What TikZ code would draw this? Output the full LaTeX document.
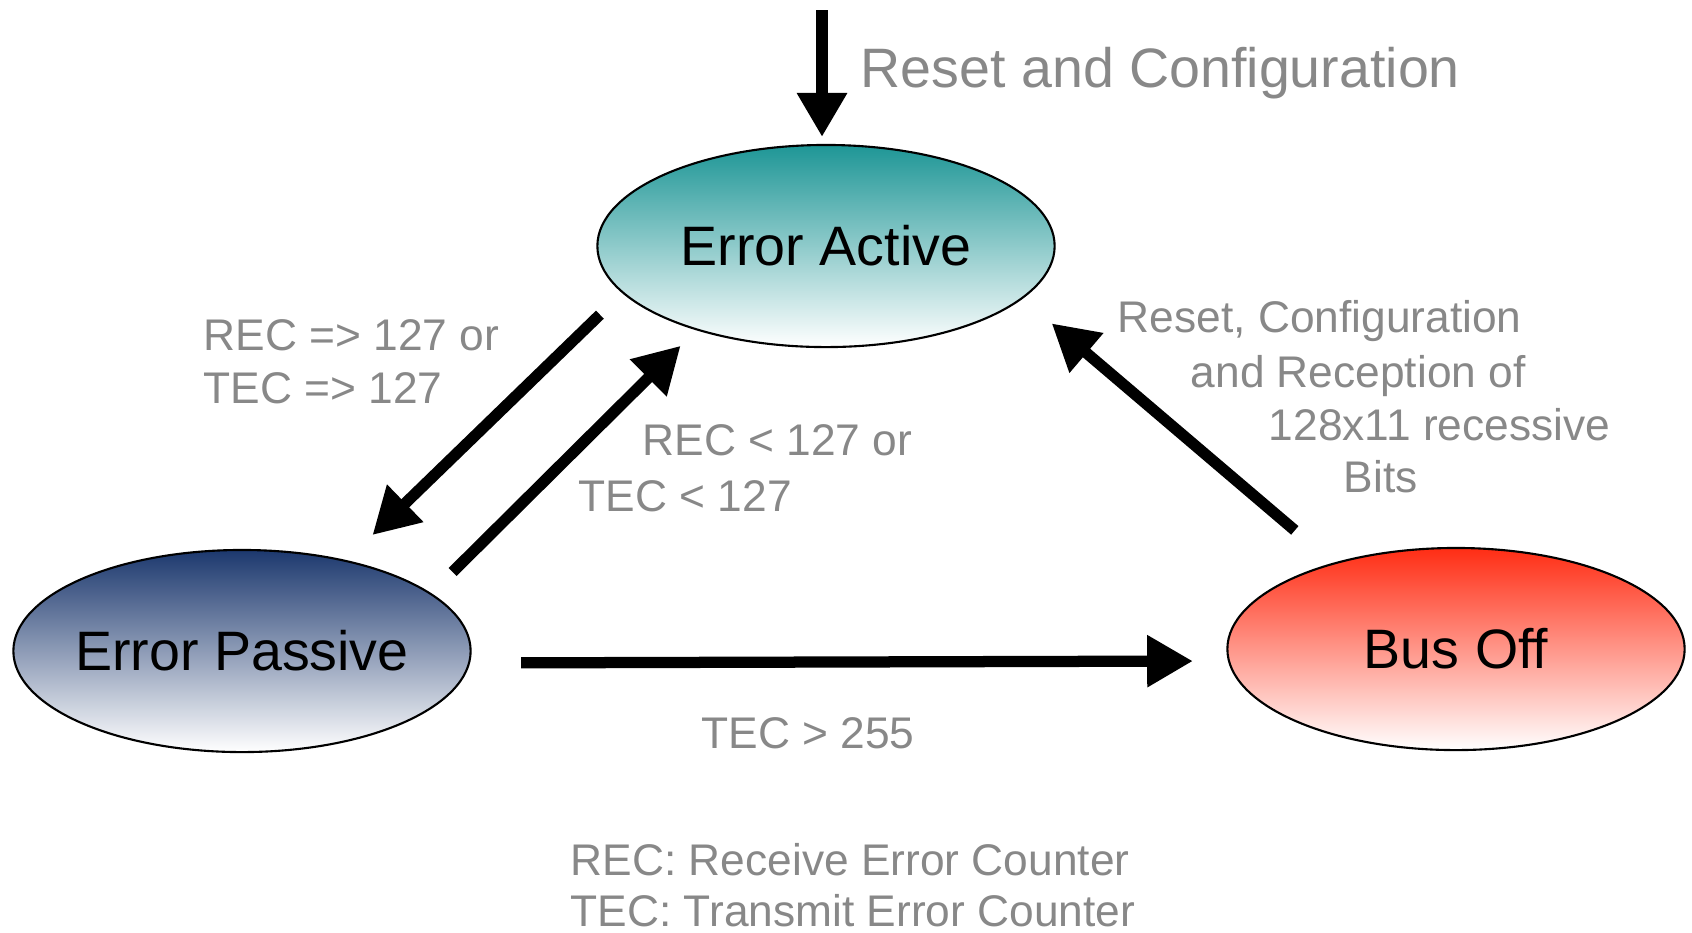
\documentclass[tikz,border=0pt]{standalone}
\usepackage{fontspec}
\setmainfont{Liberation Sans}
\usetikzlibrary{arrows.meta, positioning, shapes.geometric}

\definecolor{lblgray}{RGB}{136,136,136}
\definecolor{activeteal}{RGB}{30,150,150}
\definecolor{passivenavy}{RGB}{28,56,110}
\definecolor{busred}{RGB}{255,45,20}

\begin{document}
\begin{tikzpicture}[x=0.01cm, y=-0.01cm,
    state/.style={draw, ellipse, line width=0.6pt, minimum width=4.57cm, minimum height=2.02cm,
                  inner xsep=-8pt, inner ysep=0pt, font=\fontsize{15.8}{18}\selectfont, bottom color=white},
    lbl/.style={text=lblgray, inner sep=0pt, anchor=base west, font=\fontsize{12.6}{15}\selectfont},
    arr/.style={line width=3.2pt, -{Triangle[width=14pt,length=13pt]}}]
    \useasboundingbox (0,0) rectangle (1692,932);

    % States
    \node[state, top color=activeteal] (act) at (826,246) {Error Active};
    \node[state, top color=passivenavy] (pas) at (242,651) {Error Passive};
    \node[state, top color=busred] (off) at (1456,649) {Bus Off};

    % Reset entry
    \coordinate (rstin) at (822,10);
    \draw[arr, -{Triangle[width=13.5pt,length=12.5pt]}, shorten >=0.07cm] (rstin) -- (rstin |- act.north);
    \node[lbl, font=\fontsize{15.8}{18}\selectfont] (rsttxt) at (860,87) {Reset and Configuration};

    % Transitions
    \draw[arr, shorten <=0.31cm, shorten >=0.36cm] (act.193) -- (pas.41);
    \draw[arr, shorten <=0.30cm, shorten >=0.22cm] (pas.17) -- (act.213);
    \draw[arr, shorten <=0.51cm, shorten >=0.35cm] (pas.357.5) -- (off.183);
    \draw[arr, shorten <=0.50cm, shorten >=0.38cm] (off.145) -- (act.345.5);

    % Transition labels
    \node[lbl] (up1) at (203,350) {REC => 127 or};
    \node[lbl] (up2) at (203,403) {TEC => 127};
    \node[lbl] (dn1) at (642,455) {REC < 127 or};
    \node[lbl] (dn2) at (578,511) {TEC < 127};
    \node[lbl, anchor=base] (bus) at (808,748) {TEC > 255};
    \node[lbl] (rc1) at (1117,332) {Reset, Configuration};
    \node[lbl] (rc2) at (1190,387) {and Reception of};
    \node[lbl] (rc3) at (1268,440) {128x11 recessive};
    \node[lbl] (rc4) at (1343,492) {Bits};

    % Legend
    \node[lbl] (leg1) at (570,875) {REC: Receive Error Counter};
    \node[lbl] (leg2) at (570,926) {TEC: Transmit Error Counter};
\end{tikzpicture}
\end{document}
